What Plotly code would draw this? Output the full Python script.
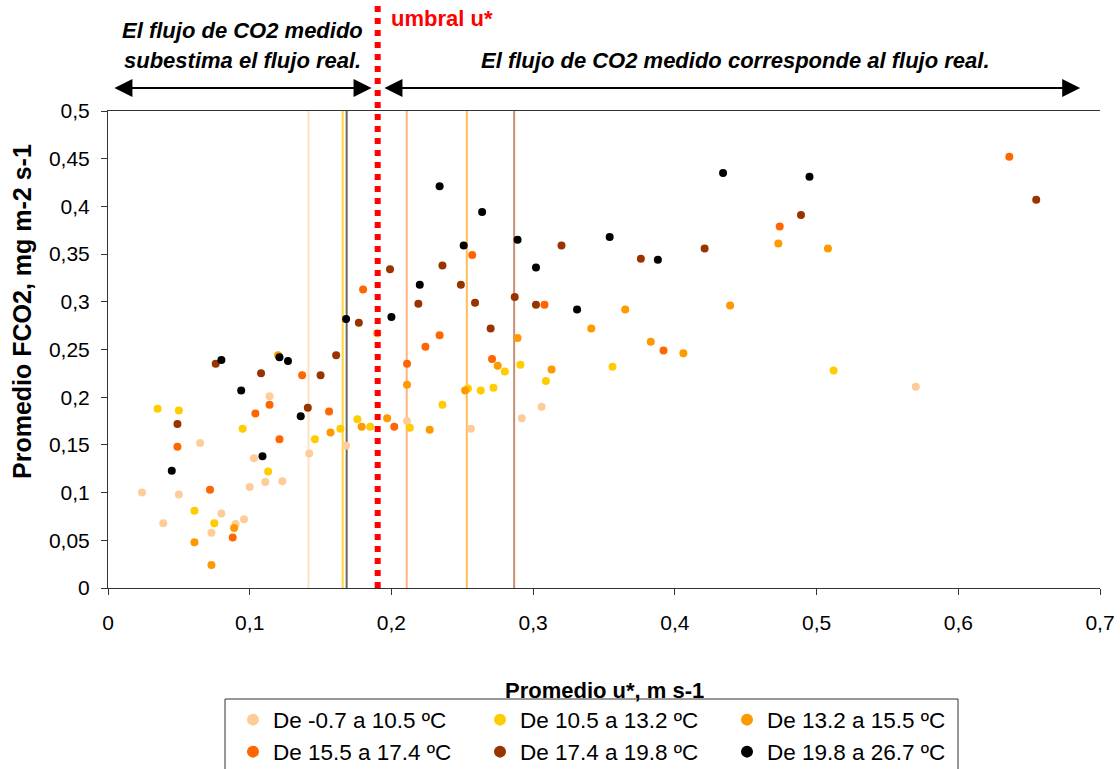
import plotly.graph_objects as go

# ---------------- data ----------------
series_names = ["De -0.7 a 10.5 ºC", "De 10.5 a 13.2 ºC", "De 13.2 a 15.5 ºC",
                "De 15.5 a 17.4 ºC", "De 17.4 a 19.8 ºC", "De 19.8 a 26.7 ºC"]
series_colors = ["#FFCC99", "#FFCC00", "#FF9900", "#FF6600", "#993300", "#000000"]

u_c1 = [0.024, 0.039, 0.050, 0.065, 0.073, 0.080, 0.090, 0.096, 0.100, 0.103,
        0.111, 0.114, 0.123, 0.142, 0.168, 0.211, 0.256, 0.292, 0.306, 0.570]
f_c1 = [0.100, 0.068, 0.098, 0.152, 0.058, 0.078, 0.067, 0.072, 0.106, 0.136,
        0.111, 0.201, 0.112, 0.141, 0.149, 0.175, 0.167, 0.178, 0.190, 0.211]

u_c2 = [0.035, 0.050, 0.061, 0.075, 0.095, 0.113, 0.146, 0.164, 0.176, 0.185,
        0.213, 0.236, 0.254, 0.263, 0.272, 0.280, 0.291, 0.309, 0.356, 0.512]
f_c2 = [0.188, 0.186, 0.081, 0.068, 0.167, 0.122, 0.156, 0.167, 0.177, 0.169,
        0.168, 0.192, 0.209, 0.207, 0.210, 0.227, 0.234, 0.217, 0.232, 0.228]

u_c3 = [0.061, 0.073, 0.089, 0.120, 0.157, 0.179, 0.190, 0.197, 0.211, 0.227,
        0.252, 0.275, 0.289, 0.313, 0.341, 0.365, 0.383, 0.406, 0.439, 0.473, 0.508]
f_c3 = [0.048, 0.024, 0.063, 0.244, 0.163, 0.169, 0.267, 0.178, 0.213, 0.166,
        0.207, 0.233, 0.262, 0.229, 0.272, 0.292, 0.258, 0.246, 0.296, 0.361, 0.356]

u_c4 = [0.049, 0.072, 0.088, 0.104, 0.114, 0.121, 0.137, 0.156, 0.180, 0.202,
        0.211, 0.224, 0.234, 0.257, 0.271, 0.308, 0.392, 0.474, 0.636]
f_c4 = [0.148, 0.103, 0.053, 0.183, 0.192, 0.156, 0.223, 0.185, 0.313, 0.169,
        0.235, 0.253, 0.265, 0.349, 0.240, 0.297, 0.249, 0.379, 0.452]

u_c5 = [0.049, 0.076, 0.108, 0.141, 0.150, 0.161, 0.177, 0.199, 0.219, 0.236,
        0.249, 0.259, 0.270, 0.287, 0.302, 0.320, 0.376, 0.421, 0.489, 0.655]
f_c5 = [0.172, 0.235, 0.225, 0.189, 0.223, 0.244, 0.278, 0.334, 0.298, 0.338,
        0.318, 0.299, 0.272, 0.305, 0.297, 0.359, 0.345, 0.356, 0.391, 0.407]

u_c6 = [0.045, 0.080, 0.094, 0.109, 0.121, 0.127, 0.136, 0.168, 0.200, 0.220,
        0.234, 0.251, 0.264, 0.289, 0.302, 0.331, 0.354, 0.388, 0.434, 0.495]
f_c6 = [0.123, 0.239, 0.207, 0.138, 0.242, 0.238, 0.180, 0.282, 0.284, 0.318,
        0.421, 0.359, 0.394, 0.365, 0.336, 0.292, 0.368, 0.344, 0.435, 0.431]

# u* threshold per temperature class and the overall threshold
class_thresholds = [0.1415, 0.1656, 0.2532, 0.2108, 0.2866, 0.1684]
threshold_colors = ["rgba(255,204,153,0.6)", "rgba(255,204,0,0.8)", "rgba(255,153,0,0.65)",
                    "rgba(255,102,0,0.5)", "rgba(153,51,0,0.55)", "rgba(0,0,0,0.6)"]
umbral = 0.1903

x_tickvals = [0, 0.1, 0.2, 0.3, 0.4, 0.5, 0.6, 0.7]
x_ticktext = ["0", "0,1", "0,2", "0,3", "0,4", "0,5", "0,6", "0,7"]
y_tickvals = [0, 0.05, 0.1, 0.15, 0.2, 0.25, 0.3, 0.35, 0.4, 0.45, 0.5]
y_ticktext = ["0", "0,05", "0,1", "0,15", "0,2", "0,25", "0,3", "0,35", "0,4", "0,45", "0,5"]

# ---------------- figure ----------------
FONT = "Liberation Sans, Arial, sans-serif"
W, H = 1120, 769
ML, MR, MT, MB = 108, 20, 111, 181
PW, PH = W - ML - MR, H - MT - MB

def px_x(p):
    return (p - ML) / PW

def px_y(p):
    return (H - MB - p) / PH

fig = go.Figure()
us = [u_c1, u_c2, u_c3, u_c4, u_c5, u_c6]
fs = [f_c1, f_c2, f_c3, f_c4, f_c5, f_c6]
for i in range(6):
    fig.add_trace(go.Scatter(
        x=us[i], y=fs[i], mode="markers", name=series_names[i],
        marker=dict(color=series_colors[i], size=8, line=dict(width=0)),
        legend="legend" if i < 3 else "legend2",
        hoverinfo="x+y+name",
    ))

shapes = []
for t, c in zip(class_thresholds, threshold_colors):
    shapes.append(dict(type="line", xref="x", yref="y", x0=t, x1=t, y0=0, y1=0.5,
                       line=dict(color=c, width=2), layer="below"))
shapes.append(dict(type="line", xref="x", yref="paper", x0=umbral, x1=umbral,
                   y0=0, y1=px_y(5), line=dict(color="#FF0000", width=6, dash="dot"),
                   layer="above"))
# legend frame
shapes.append(dict(type="rect", xref="paper", yref="paper",
                   x0=px_x(225), x1=px_x(958), y0=px_y(800), y1=px_y(699),
                   line=dict(color="#333333", width=1), fillcolor="rgba(0,0,0,0)"))

ann = []
ann_font = dict(family=FONT, size=22, color="#000000")
ann.append(dict(xref="paper", yref="paper", x=px_x(242), y=px_y(31),
                text="<b><i>El flujo de CO2 medido</i></b>", showarrow=False,
                font=ann_font, xanchor="center", yanchor="middle"))
ann.append(dict(xref="paper", yref="paper", x=px_x(242), y=px_y(61),
                text="<b><i>subestima el flujo real.</i></b>", showarrow=False,
                font=ann_font, xanchor="center", yanchor="middle"))
ann.append(dict(xref="paper", yref="paper", x=px_x(735), y=px_y(61),
                text="<b><i>El flujo de CO2 medido corresponde al flujo real.</i></b>",
                showarrow=False, font=ann_font, xanchor="center", yanchor="middle"))
ann.append(dict(xref="paper", yref="paper", x=px_x(389), y=px_y(19),
                text="<b>umbral u*</b>", showarrow=False,
                font=dict(family=FONT, size=22, color="#FF0000"),
                xanchor="left", yanchor="middle"))
# double arrows
for xa, xb in [(0.0035, 0.186), (0.194, 0.686)]:
    ann.append(dict(xref="x", yref="paper", axref="x", ayref="pixel",
                    x=xb, y=px_y(88), ax=xa, ay=0, text="",
                    showarrow=True, arrowside="end+start", arrowhead=2,
                    arrowsize=1.8, arrowwidth=2, arrowcolor="#000000"))
# axis titles
ann.append(dict(xref="paper", yref="paper", x=0.5, y=px_y(690),
                text="<b>Promedio u*, m s-1</b>", showarrow=False,
                font=dict(family=FONT, size=22, color="#000000"),
                xanchor="center", yanchor="middle"))
ann.append(dict(xref="paper", yref="paper", x=px_x(22), y=px_y(312),
                text="<b>Promedio FCO2, mg m-2 s-1</b>", showarrow=False, textangle=-90,
                font=dict(family=FONT, size=25, color="#000000"),
                xanchor="center", yanchor="middle"))

legend_common = dict(orientation="h", xanchor="left", yanchor="middle",
                     bgcolor="rgba(0,0,0,0)", borderwidth=0,
                     font=dict(family=FONT, size=22.5, color="#000000"),
                     entrywidth=202, entrywidthmode="pixels", itemsizing="constant",
                     tracegroupgap=0)

fig.update_layout(
    width=W, height=H,
    margin=dict(l=ML, r=MR, t=MT, b=MB, autoexpand=False),
    paper_bgcolor="#FFFFFF", plot_bgcolor="#FFFFFF",
    font=dict(family=FONT, size=21, color="#000000"),
    showlegend=True,
    legend=dict(x=px_x(233), y=px_y(720), **legend_common),
    legend2=dict(x=px_x(233), y=px_y(752), **legend_common),
    xaxis=dict(range=[0, 0.7], tickvals=x_tickvals, ticktext=x_ticktext,
               showgrid=False, zeroline=False, showline=True, linecolor="#333333",
               linewidth=1, mirror=True, ticks="outside", ticklen=6, tickcolor="#333333",
               ticklabelstandoff=10,
               tickfont=dict(family=FONT, size=21, color="#000000"), automargin=False),
    yaxis=dict(range=[0, 0.5], tickvals=y_tickvals, ticktext=y_ticktext,
               showgrid=False, zeroline=False, showline=True, linecolor="#333333",
               linewidth=1, ticks="outside", ticklen=6, tickcolor="#333333",
               ticklabelstandoff=7,
               tickfont=dict(family=FONT, size=21, color="#000000"), automargin=False),
    shapes=shapes,
    annotations=ann,
)

fig.write_html("out.html")
